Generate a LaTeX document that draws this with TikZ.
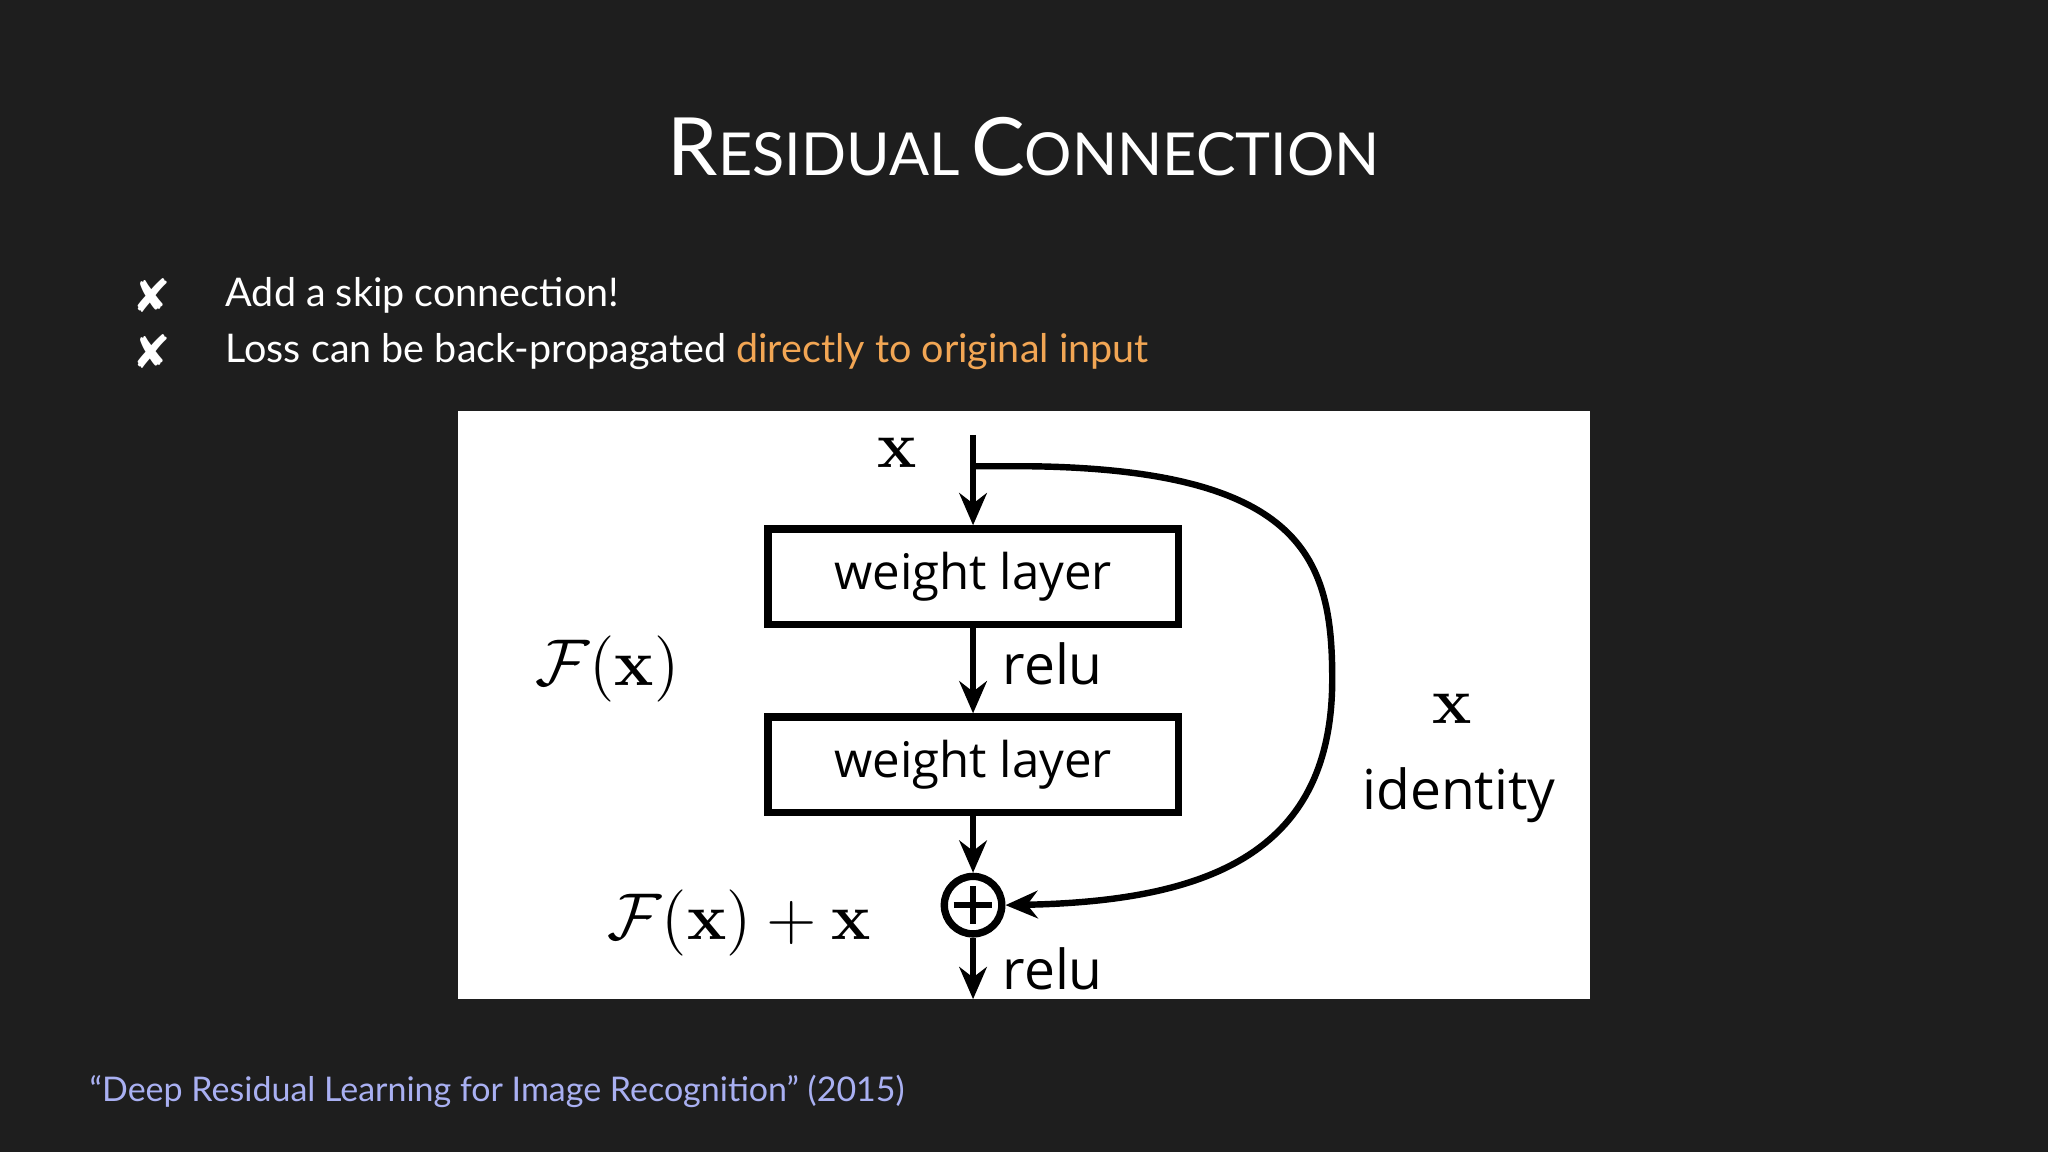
\documentclass[tikz,border=0pt]{standalone}
\usepackage[no-math]{fontspec}
\setmainfont{Lato}
\newfontfamily\dejavu{DejaVu Sans}
\newfontfamily\osans{Open Sans}
\usetikzlibrary{arrows.meta}
\definecolor{bg}{HTML}{1E1E1E}
\definecolor{orng}{HTML}{F2A654}
\definecolor{lav}{HTML}{A9B0F2}
\newcommand{\bigsc}[2]{{\fontsize{17.5}{20}\selectfont #1}{\fontsize{12.9}{15}\selectfont #2}}
\tikzset{
  wl/.style={draw=black,line width=1.6pt,minimum width=3.14cm,minimum height=0.73cm,inner sep=0pt,font=\osans\fontsize{10.7}{13}\selectfont},
  arr/.style={line width=1.4pt,-{Stealth[length=7pt,width=6pt]}},
  lbl/.style={font=\osans\fontsize{12}{14}\selectfont,anchor=west,inner sep=0pt},
  mth/.style={font=\fontsize{15.3}{18}\selectfont},
  bt/.style={text=white,anchor=west,inner sep=0pt,font=\fontsize{8.6}{10}\selectfont}
}
\begin{document}
\begin{tikzpicture}[x=0.01cm,y=-0.01cm]
\useasboundingbox (0,0) rectangle (1568,882);
\fill[bg] (0,0) rectangle (1568,882);
\node[text=white] (title) at (784,112) {\bigsc{R}{ESIDUAL} \bigsc{C}{ONNECTION}};
\node[text=white,font=\dejavu\fontsize{10}{12}\selectfont] (b1) at (116,226) {✘};
\node[text=white,font=\dejavu\fontsize{10}{12}\selectfont] (b2) at (116,269) {✘};
\node[bt] (t1) at (172,226) {Add a skip connection!};
\node[bt] (t2) at (172,269) {Loss can be back-propagated \textcolor{orng}{directly to original input}};
\fill[white] (351,315) rectangle (1217,765);
\node[wl] (w1) at (745,441.5) {weight layer};
\node[wl] (w2) at (745,585.5) {weight layer};
\node[draw=black,line width=1.6pt,circle,minimum size=0.44cm,inner sep=0pt] (plus) at (745,693) {};
\draw[line width=1.4pt] ([yshift=-0.1cm]plus.north) -- ([yshift=0.1cm]plus.south) ([xshift=0.1cm]plus.west) -- ([xshift=-0.1cm]plus.east);
\coordinate (top) at (745,333);
\coordinate (bot) at (745,765);
\coordinate (sk) at (745,357);
\draw[arr] (top) -- (w1.north);
\draw[arr] (w1.south) -- (w2.north);
\draw[arr] (w2.south) -- (plus.north);
\draw[arr] (plus.south) -- (bot);
\draw[arr] (sk) -- (790,357) .. controls (1000,360) and (1020,430) .. (1020,520) .. controls (1020,650) and (930,690) .. (plus.east);
\node[lbl] (r1) at (767,508) {relu};
\node[lbl] (r2) at (767,742) {relu};
\node[mth] (xin) at (687,347) {$\mathbf{x}$};
\node[mth] (fx) at (465,512) {$\mathcal{F}(\mathbf{x})$};
\node[mth] (xid) at (1112,543) {$\mathbf{x}$};
\node[font=\osans\fontsize{12}{14}\selectfont] (id) at (1117,609) {identity};
\node[mth] (fxx) at (566,707) {$\mathcal{F}(\mathbf{x})+\mathbf{x}$};
\node[text=lav,anchor=west,inner sep=0pt,font=\fontsize{7.4}{9}\selectfont] (cite) at (68,836) {“Deep Residual Learning for Image Recognition” (2015)};
\end{tikzpicture}
\end{document}
